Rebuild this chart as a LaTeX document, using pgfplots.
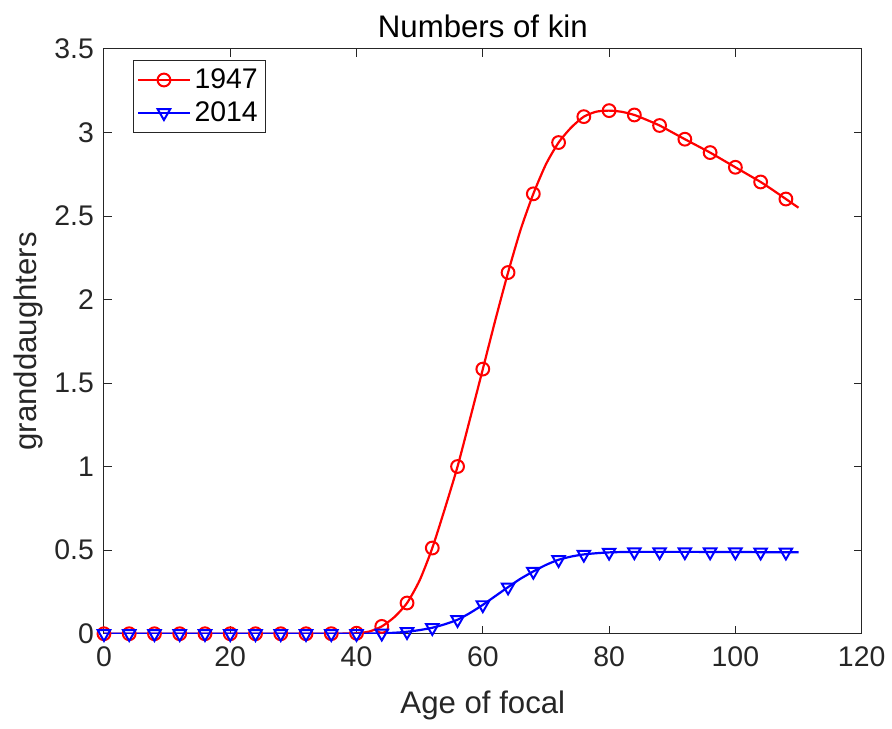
\documentclass[border=0pt]{standalone}
\usepackage{pgfplots}
\pgfplotsset{compat=1.18}
\usepackage{fontspec}
\setmainfont{Liberation Sans}

\definecolor{axgray}{rgb}{0.15,0.15,0.15}

% age, granddaughters (1947)
\pgfplotstableread{
age val
0 0
2 0
4 0
6 0
8 0
10 0
12 0
14 0
16 0
18 0
20 0
22 0
24 0
26 0
28 0
30 0
32 0
34 0
36 0.0005
38 0.001
40 0.003
42 0.013
44 0.044
46 0.10
48 0.184
50 0.32
52 0.513
54 0.75
56 1.001
58 1.29
60 1.584
62 1.88
64 2.162
66 2.42
68 2.633
70 2.81
72 2.94
74 3.03
76 3.095
78 3.125
80 3.131
82 3.124
84 3.105
86 3.075
88 3.042
90 3.001
92 2.960
94 2.920
96 2.880
98 2.836
100 2.792
102 2.748
104 2.704
106 2.654
108 2.602
110 2.550
}\kinA

% age, granddaughters (2014)
\pgfplotstableread{
age val
0 0
2 0
4 0
6 0
8 0
10 0
12 0
14 0
16 0
18 0
20 0
22 0
24 0
26 0
28 0
30 0
32 0
34 0
36 0
38 0
40 0.0005
42 0.001
44 0.003
46 0.006
48 0.012
50 0.022
52 0.036
54 0.057
56 0.084
58 0.125
60 0.173
62 0.226
64 0.279
66 0.330
68 0.373
70 0.412
72 0.443
74 0.462
76 0.475
78 0.482
80 0.487
82 0.489
84 0.490
86 0.490
88 0.490
90 0.490
92 0.490
94 0.490
96 0.489
98 0.489
100 0.489
102 0.489
104 0.488
106 0.488
108 0.488
110 0.488
}\kinB

\begin{document}
\begin{tikzpicture}
\begin{axis}[
    scale only axis,
    width=379pt, height=292.5pt,
    xmin=0, xmax=120, ymin=0, ymax=3.5,
    xtick={0,20,...,120},
    ytick={0,0.5,...,3.5},
    yticklabels={0,0.5,1,1.5,2,2.5,3,3.5},
    /pgf/number format/assume math mode=true,
    tick align=inside,
    tick pos=both,
    major tick length=4pt,
    axis line style={axgray, line width=0.5pt},
    every tick/.style={axgray, line width=0.5pt},
    tick label style={font=\fontsize{14.2}{17}\selectfont, text=axgray},
    xticklabel style={yshift=-3pt},
    yticklabel style={xshift=-1.5pt},
    label style={font=\fontsize{15.6}{18}\selectfont, text=axgray},
    title style={font=\fontsize{15.6}{18}\selectfont, yshift=-4pt},
    title={Numbers of kin},
    xlabel={Age of focal},
    ylabel={granddaughters},
    xlabel style={yshift=-5pt},
    ylabel style={yshift=-1pt},
    legend style={at={(0.038,0.981)}, anchor=north west,
        draw=axgray, line width=0.5pt,
        font=\fontsize{14.2}{17}\selectfont,
        inner xsep=2pt, inner ysep=2pt,
        row sep=1pt},
    legend cell align=left,
    legend image code/.code={%
        \draw[mark repeat=2, mark phase=2, #1]
        plot coordinates {(0cm,0cm) (0.45cm,0cm) (0.9cm,0cm)};},
]
\addplot[red, line width=1.1pt, smooth, tension=0.4, mark=o, mark size=3.2pt,
    mark repeat=2, mark phase=1, mark options={solid, line width=1pt}]
    table[x=age, y=val] {\kinA};
\addplot[blue, line width=1.1pt, smooth, tension=0.4, mark=triangle, mark size=3.6pt,
    mark repeat=2, mark phase=1, mark options={solid, line width=1pt, rotate=180}]
    table[x=age, y=val] {\kinB};
\legend{1947, 2014}
\end{axis}
\path[use as bounding box] ([shift={(-52pt,-47.5pt)}]current axis.south west)
    rectangle ([shift={(15pt,24.5pt)}]current axis.north east);
\end{tikzpicture}
\end{document}
